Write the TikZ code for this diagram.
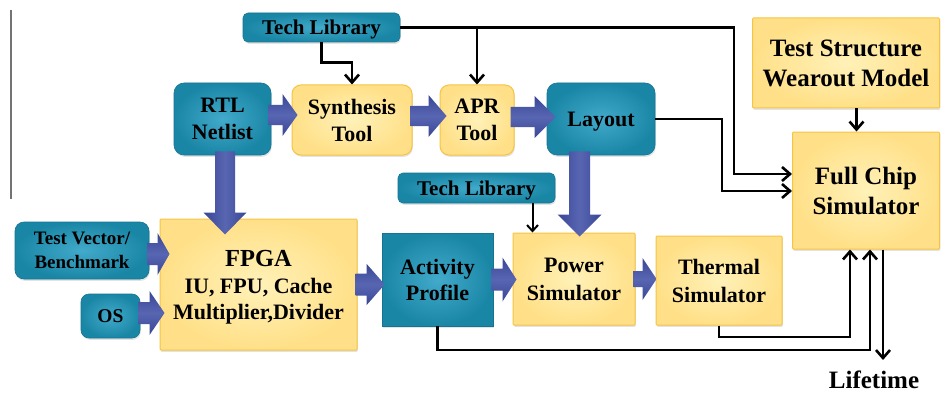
\documentclass[tikz,border=0pt]{standalone}
\usepackage{fontspec}
\setmainfont{Liberation Serif}
\usetikzlibrary{arrows.meta,calc,shadows}

\definecolor{tealA}{RGB}{66,170,202}
\definecolor{tealB}{RGB}{26,134,166}
\definecolor{tealE}{RGB}{22,116,146}
\definecolor{yelA}{RGB}{255,241,184}
\definecolor{yelB}{RGB}{255,224,136}
\definecolor{yelE}{RGB}{246,196,66}
\definecolor{blkA}{RGB}{88,102,178}
\definecolor{blkB}{RGB}{56,70,150}

\tikzset{
  box/.style={inner sep=0pt, align=center, font=\bfseries\fontsize{22}{27}\selectfont,
    text depth=0pt, drop shadow={opacity=0.22, shadow xshift=0.8pt, shadow yshift=-1.8pt}},
  tealbox/.style={box, draw=tealE, line width=0.6pt, inner color=tealA, outer color=tealB},
  yelbox/.style={box, draw=yelE, line width=1pt, inner color=yelA, outer color=yelB},
  conn/.style={line width=2.8pt, -{Straight Barb[length=8pt,width=14pt,line width=2.6pt]}},
  thinconn/.style={line width=2pt, -{Straight Barb[length=6pt,width=11pt,line width=2pt]}},
  harrow/.style={top color=blkB, bottom color=blkB, middle color=blkA},
  varrow/.style={left color=blkB, right color=blkB, middle color=blkA},
}

% horizontal block arrow: start, tip, shaft half width, head half width, head length
\newcommand\harr[5]{\shade[harrow] let \p1=(#1), \p2=(#2) in
  (\x1,\y1+#3) -- (\x2-#5,\y1+#3) -- (\x2-#5,\y1+#4) -- (\x2,\y1) --
  (\x2-#5,\y1-#4) -- (\x2-#5,\y1-#3) -- (\x1,\y1-#3) -- cycle;}
% downward block arrow: start, tip, shaft half width, head half width, head length
\newcommand\varr[5]{\shade[varrow] let \p1=(#1), \p2=(#2) in
  (\x1-#3,\y1) -- (\x1-#3,\y2+#5) -- (\x1-#4,\y2+#5) -- (\x1,\y2) --
  (\x1+#4,\y2+#5) -- (\x1+#3,\y2+#5) -- (\x1+#3,\y1) -- cycle;}

\begin{document}
\begin{tikzpicture}[x=1pt,y=-1pt]
\useasboundingbox (0,0) rectangle (941,393);
\fill[white] (0,0) rectangle (941,393);

% margin rule
\draw[black!55, line width=1.3pt] (11,10) -- (11,199);

% design flow boxes
\node[tealbox, rounded corners=5pt, minimum width=157pt, minimum height=29pt,
  font=\bfseries\fontsize{21}{25}\selectfont] (tl1) at (321.5,27.5) {Tech Library};
\node[tealbox, rounded corners=10pt, minimum width=97pt, minimum height=72pt] (rtl) at (222.5,119) {RTL\\Netlist};
\node[yelbox, rounded corners=9pt, minimum width=120pt, minimum height=70pt] (syn) at (352,120) {Synthesis\\Tool};
\node[yelbox, rounded corners=9pt, minimum width=74pt, minimum height=70pt] (apr) at (477,120) {APR\\Tool};
\node[tealbox, rounded corners=10pt, minimum width=108pt, minimum height=72pt] (lay) at (601,119) {Layout};
\node[yelbox, rounded corners=1pt, minimum width=187pt, minimum height=90pt,
  font=\bfseries\fontsize{25}{30}\selectfont] (tsw) at (846,63) {Test Structure\\Wearout Model};
\node[yelbox, rounded corners=1pt, minimum width=147pt, minimum height=117pt,
  font=\bfseries\fontsize{25}{30}\selectfont] (fcs) at (866,190.5) {Full Chip\\Simulator};
\node[tealbox, rounded corners=5pt, minimum width=157pt, minimum height=30pt,
  font=\bfseries\fontsize{21}{25}\selectfont] (tl2) at (476.5,188) {Tech Library};

% emulation and simulation boxes
\node[tealbox, rounded corners=9pt, minimum width=134pt, minimum height=57pt,
  font=\bfseries\fontsize{19}{24}\selectfont] (tv) at (82,250.5) {Test Vector/\\Benchmark};
\node[tealbox, rounded corners=8pt, minimum width=59pt, minimum height=44pt,
  font=\bfseries\fontsize{19.5}{24}\selectfont] (os) at (110.5,316) {OS};
\node[yelbox, rounded corners=1pt, minimum width=197pt, minimum height=131pt,
  font=\bfseries\fontsize{22}{26}\selectfont] (fpga) at (258.5,284.5)
  {{\fontsize{24.5}{28}\selectfont FPGA}\\[1pt]IU, FPU, Cache\\Multiplier,Divider};
\node[tealbox, minimum width=111pt, minimum height=93pt,
  font=\bfseries\fontsize{22}{26}\selectfont] (act) at (437.5,279.5) {Activity\\Profile};
\node[yelbox, rounded corners=1pt, minimum width=122pt, minimum height=92pt,
  font=\bfseries\fontsize{22}{28}\selectfont] (pow) at (574,279) {Power\\Simulator};
\node[yelbox, rounded corners=1pt, minimum width=126pt, minimum height=89pt,
  font=\bfseries\fontsize{22}{28}\selectfont] (therm) at (719,280.5) {Thermal\\Simulator};
\node[font=\bfseries\fontsize{25}{30}\selectfont, anchor=base, inner sep=0pt] (life) at (874,388) {Lifetime};

% block arrows of the main flow
\harr{[shift={(-3pt,4pt)}]rtl.east}{[shift={(6pt,4pt)}]syn.west}{10pt}{21pt}{15pt}
\harr{[shift={(-2pt,4pt)}]syn.east}{[shift={(7pt,4pt)}]apr.west}{10pt}{21pt}{18pt}
\harr{[shift={(-4pt,3pt)}]apr.east}{[shift={(9pt,3pt)}]lay.west}{10pt}{21pt}{21pt}
\varr{[shift={(2.5pt,4pt)}]rtl.south}{[yshift=-16pt]fpga.north}{10pt}{21.5pt}{22pt}
\varr{[shift={(-21.5pt,4pt)}]lay.south}{[yshift=-4pt]pow.north}{10.5pt}{22pt}{22pt}
\harr{[shift={(-2pt,-3.5pt)}]tv.east}{[shift={(10pt,-3.5pt)}]fpga.west |- tv.east}{11pt}{21pt}{12pt}
\harr{[shift={(-2pt,3pt)}]os.east}{[shift={(5pt,3pt)}]fpga.west |- os.east}{11pt}{22pt}{15pt}
\harr{[shift={(-2pt,0pt)}]fpga.east}{[shift={(3pt,0pt)}]act.west |- fpga.east}{11pt}{20.5pt}{18pt}
\harr{[shift={(-2pt,0pt)}]act.east}{[shift={(4pt,0pt)}]pow.west |- act.east}{11pt}{22pt}{14pt}
\harr{[shift={(-2pt,0pt)}]pow.east}{[shift={(1pt,0pt)}]therm.west |- pow.east}{8pt}{21pt}{14pt}

% technology library and layout feeds
\draw[conn] (tl1.south) -- ++(0,20) -| (syn.north);
\coordinate (j1) at (734,174);
\draw[conn] (tl1.east) -| (j1) -- (j1 -| fcs.west);
\draw[conn] (tl1.east -| apr.north) -- (apr.north);
\coordinate (j2) at (722,191);
\draw[conn] (lay.east) -| (j2) -- (j2 -| fcs.west);
\coordinate (t1) at ([xshift=10.5pt]tsw.south);
\draw[conn] (t1) -- (t1 |- fcs.north);
\path (tl2.south -| pow.west) ++(20,0) coordinate (t2);
\draw[thinconn] (t2) -- (t2 |- pow.north);

% simulation results into the full chip simulator
\coordinate (b1) at (870,350);
\draw[conn] (act.south) |- (b1) -- (b1 |- fcs.south);
\coordinate (b2) at (850,337);
\draw[conn] (therm.south) |- (b2) -- (b2 |- fcs.south);
\coordinate (lt) at (883,360);
\draw[conn] (lt |- fcs.south) -- (lt);
\end{tikzpicture}
\end{document}
